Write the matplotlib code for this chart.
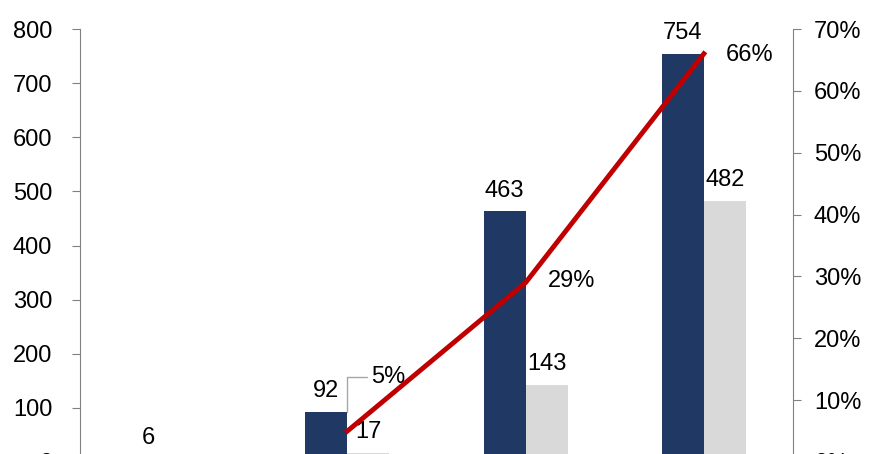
import numpy as np
import matplotlib.pyplot as plt
import matplotlib as mpl
from matplotlib.ticker import PercentFormatter

mpl.rcParams["font.family"] = ["Liberation Sans", "DejaVu Sans"]

# data
groups = ["A", "B", "C", "D"]
dark_vals = [6, 92, 463, 754]
grey_vals = [0, 17, 143, 482]
share_pct = [np.nan, 5, 29, 66]

dark_col = "#203864"
grey_col = "#D9D9D9"
line_col = "#C00000"
fs = 17


def main():
    fig = plt.figure(figsize=(8.85, 4.54), dpi=100)
    # axes bottom runs below the figure edge (chart is cropped in the reference)
    ax = fig.add_axes([80 / 885, (454 - 462) / 454, (793 - 80) / 885, (462 - 29) / 454])
    ax2 = ax.twinx()

    x = np.arange(len(groups))
    w = 0.235
    ax.bar(x - w / 2, dark_vals, width=w, color=dark_col, zorder=2)
    ax.bar(x + w / 2, grey_vals, width=w, color=grey_col, zorder=2)

    for i in range(len(groups)):
        ax.annotate(str(dark_vals[i]), (x[i] - w / 2, dark_vals[i]), xytext=(0, 7),
                    textcoords="offset points", ha="center", va="bottom", fontsize=fs)
        if grey_vals[i] > 0:
            ax.annotate(str(grey_vals[i]), (x[i] + w / 2, grey_vals[i]), xytext=(0, 7),
                        textcoords="offset points", ha="center", va="bottom", fontsize=fs)

    ax.set_xlim(-0.5, 3.5)
    ax.set_ylim(0, 800)
    ax.set_yticks(np.arange(0, 801, 100))
    ax.set_xticks([])

    ax2.plot(x, np.array(share_pct) / 100, color=line_col, linewidth=3.5, zorder=5)
    ax2.set_ylim(0, 0.7)
    ax2.set_yticks(np.arange(0, 0.71, 0.1))
    ax2.yaxis.set_major_formatter(PercentFormatter(1.0, decimals=0))

    # percent labels
    ax2.annotate("66%", (x[3], 0.66), xytext=(16, -1), textcoords="offset points",
                 ha="left", va="center", fontsize=fs)
    ax2.annotate("29%", (x[2], 0.29), xytext=(16, 1), textcoords="offset points",
                 ha="left", va="center", fontsize=fs)
    ax2.annotate("5%", (x[1], 0.05), xytext=(17, 39), textcoords="offset points",
                 ha="left", va="center", fontsize=fs,
                 arrowprops=dict(arrowstyle="-", color="#A6A6A6", lw=1,
                                 connectionstyle="angle,angleA=0,angleB=90,rad=0",
                                 shrinkA=1, shrinkB=14))

    for a in (ax, ax2):
        a.spines["top"].set_visible(False)
        a.spines["bottom"].set_visible(False)
        a.spines["left"].set_color("#808080")
        a.spines["right"].set_color("#808080")
    ax.spines["right"].set_visible(False)
    ax2.spines["left"].set_visible(False)
    ax.tick_params(axis="y", labelsize=fs, length=6, color="#808080", pad=14)
    ax2.tick_params(axis="y", labelsize=fs, length=6, color="#808080", pad=9)

    fig.savefig("out.png", dpi=100)


if __name__ == "__main__":
    main()
